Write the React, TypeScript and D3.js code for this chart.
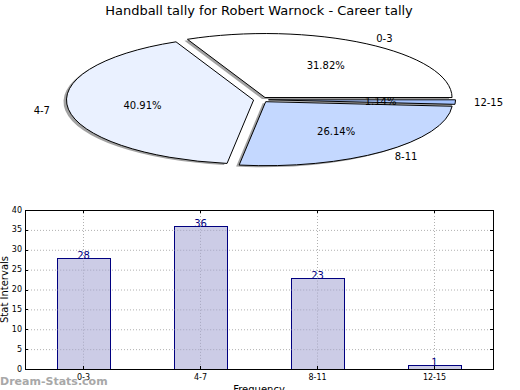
import { useEffect, useRef } from "react"
import * as d3 from "d3"

const title = "Handball tally for Robert Warnock - Career tally"
const categories = ["0-3", "4-7", "8-11", "12-15"]
const tallies = [28, 36, 23, 1]
const percentLabels = ["31.82%", "40.91%", "26.14%", "1.14%"]
const sliceColors = ["#ffffff", "#eaf1ff", "#c4d8ff", "#a6c4ff"]
const yTicks = [0, 5, 10, 15, 20, 25, 30, 35, 40]

export default function App() {
  const svgRef = useRef<SVGSVGElement>(null)

  useEffect(() => {
    if (!svgRef.current) return
    const svg = d3.select(svgRef.current)
    svg.selectAll("*").remove()

    const width = 520
    const height = 390
    const font = "DejaVu Sans, sans-serif"
    svg.attr("width", width).attr("height", height)

    svg.append("rect").attr("width", width).attr("height", height).style("fill", "white")

    // Title
    svg.append("text")
      .attr("x", 259)
      .attr("y", 15)
      .attr("text-anchor", "middle")
      .style("font-family", font)
      .style("font-size", "13px")
      .style("fill", "black")
      .text(title)

    // ---- Pie (squashed ellipse, matplotlib style) ----
    const cx = 261
    const cy = 99.7
    const rx = 187
    const ry = 64
    const explode = 0.04

    const pie = d3.pie<number>()
      .sort(null)
      .startAngle(Math.PI / 2)
      .endAngle(Math.PI / 2 - Math.PI * 2)
    const arcs = pie(tallies)
    const arc = d3.arc<d3.PieArcDatum<number>>().innerRadius(0).outerRadius(1)

    const pieG = svg.append("g")

    const offsetOf = (a: d3.PieArcDatum<number>, k: number) => {
      const mid = (a.startAngle + a.endAngle) / 2
      return [Math.sin(mid) * k, -Math.cos(mid) * k]
    }

    // shadows
    arcs.forEach((a) => {
      const [ox, oy] = offsetOf(a, explode)
      pieG.append("path")
        .attr("d", arc(a))
        .attr("transform", `translate(${cx + ox * rx - 3},${cy + oy * ry + 1.5}) scale(${rx},${ry})`)
        .style("fill", "#555")
        .style("opacity", 0.55)
        .style("stroke", "none")
    })

    arcs.forEach((a, i) => {
      const [ox, oy] = offsetOf(a, explode)
      pieG.append("path")
        .attr("d", arc(a))
        .attr("transform", `translate(${cx + ox * rx},${cy + oy * ry}) scale(${rx},${ry})`)
        .style("fill", sliceColors[i])
        .style("stroke", "black")
        .style("stroke-width", 1)
        .attr("vector-effect", "non-scaling-stroke")
    })

    arcs.forEach((a, i) => {
      const mid = (a.startAngle + a.endAngle) / 2
      const sx = Math.sin(mid)
      const sy = -Math.cos(mid)
      const lx = cx + sx * rx * (1.1 + explode)
      const ly = cy + sy * ry * (1.1 + explode)
      svg.append("text")
        .attr("x", lx)
        .attr("y", ly)
        .attr("text-anchor", sx > 0 ? "start" : "end")
        .attr("dominant-baseline", "central")
        .style("font-family", font)
        .style("font-size", "10px")
        .text(categories[i])

      const px = cx + sx * rx * (0.6 + explode)
      const py = cy + sy * ry * (0.6 + explode)
      svg.append("text")
        .attr("x", px)
        .attr("y", py)
        .attr("text-anchor", "middle")
        .attr("dominant-baseline", "central")
        .style("font-family", font)
        .style("font-size", "10px")
        .text(percentLabels[i])
    })

    // ---- Bar chart ----
    const left = 25
    const right = 493
    const top = 210
    const bottom = 369

    const x = d3.scaleBand<string>()
      .domain(categories)
      .range([left, right])
      .paddingInner(0.55)
      .paddingOuter(0.275)
    const y = d3.scaleLinear().domain([0, 40]).range([bottom, top])

    const grid = svg.append("g")
      .style("stroke", "#b0b0b0")
      .style("stroke-width", 1)
      .style("stroke-dasharray", "1,2")

    yTicks.slice(1, -1).forEach((t) => {
      grid.append("line")
        .attr("x1", left).attr("x2", right)
        .attr("y1", y(t) + 0.5).attr("y2", y(t) + 0.5)
    })
    categories.forEach((c) => {
      const xc = Math.round(x(c)! + x.bandwidth() / 2) + 0.5
      grid.append("line")
        .attr("x1", xc).attr("x2", xc)
        .attr("y1", top).attr("y2", bottom)
    })

    svg.append("g")
      .selectAll("rect")
      .data(tallies)
      .join("rect")
      .attr("x", (_, i) => Math.round(x(categories[i])!) + 0.5)
      .attr("y", (d) => Math.round(y(d)) + 0.5)
      .attr("width", Math.round(x.bandwidth()))
      .attr("height", (d) => Math.round(y(0)) - Math.round(y(d)))
      .style("fill", "#ccccE6")
      .style("stroke", "#000080")
      .style("stroke-width", 1)

    // grid lines drawn over the bars too (matplotlib puts grid on top)
    const grid2 = svg.append("g")
      .style("stroke", "#9090a8")
      .style("stroke-width", 1)
      .style("stroke-dasharray", "1,2")
      .style("opacity", 0.6)
    yTicks.slice(1, -1).forEach((t) => {
      tallies.forEach((v, i) => {
        if (v > t) {
          grid2.append("line")
            .attr("x1", x(categories[i])!).attr("x2", x(categories[i])! + x.bandwidth())
            .attr("y1", y(t) + 0.5).attr("y2", y(t) + 0.5)
        }
      })
    })
    categories.forEach((c, i) => {
      const xc = Math.round(x(c)! + x.bandwidth() / 2) + 0.5
      grid2.append("line")
        .attr("x1", xc).attr("x2", xc)
        .attr("y1", y(tallies[i])).attr("y2", bottom)
    })

    // value labels
    svg.append("g")
      .selectAll("text")
      .data(tallies)
      .join("text")
      .attr("x", (_, i) => x(categories[i])! + x.bandwidth() / 2)
      .attr("y", (d) => y(d) + 1)
      .attr("text-anchor", "middle")
      .style("font-family", font)
      .style("font-size", "10px")
      .style("fill", "#000080")
      .text((d) => d)

    // frame
    svg.append("rect")
      .attr("x", left + 0.5)
      .attr("y", top + 0.5)
      .attr("width", right - left)
      .attr("height", bottom - top)
      .style("fill", "none")
      .style("stroke", "black")
      .style("stroke-width", 1)

    // ticks
    const ticks = svg.append("g").style("stroke", "black").style("stroke-width", 1)
    yTicks.forEach((t) => {
      const yy = Math.round(y(t)) + 0.5
      ticks.append("line").attr("x1", left).attr("x2", left + 3).attr("y1", yy).attr("y2", yy)
      ticks.append("line").attr("x1", right - 3).attr("x2", right).attr("y1", yy).attr("y2", yy)
    })
    categories.forEach((c) => {
      const xc = Math.round(x(c)! + x.bandwidth() / 2) + 0.5
      ticks.append("line").attr("x1", xc).attr("x2", xc).attr("y1", bottom - 3).attr("y2", bottom)
      ticks.append("line").attr("x1", xc).attr("x2", xc).attr("y1", top).attr("y2", top + 3)
    })

    svg.append("g")
      .selectAll("text")
      .data(yTicks)
      .join("text")
      .attr("x", left - 3)
      .attr("y", (d) => y(d))
      .attr("text-anchor", "end")
      .attr("dominant-baseline", "central")
      .style("font-family", font)
      .style("font-size", "8px")
      .text((d) => d)

    svg.append("g")
      .selectAll("text")
      .data(categories)
      .join("text")
      .attr("x", (d) => x(d)! + x.bandwidth() / 2)
      .attr("y", bottom + 11)
      .attr("text-anchor", "middle")
      .style("font-family", font)
      .style("font-size", "8px")
      .text((d) => d)

    svg.append("text")
      .attr("transform", `translate(8,${(top + bottom) / 2}) rotate(-90)`)
      .attr("text-anchor", "middle")
      .style("font-family", font)
      .style("font-size", "10px")
      .text("Stat Intervals")

    svg.append("text")
      .attr("x", (left + right) / 2)
      .attr("y", 393)
      .attr("text-anchor", "middle")
      .style("font-family", font)
      .style("font-size", "10px")
      .text("Frequency")

    svg.append("text")
      .attr("x", 0)
      .attr("y", 385)
      .style("font-family", font)
      .style("font-size", "11px")
      .style("font-weight", "bold")
      .style("fill", "#999")
      .style("opacity", 0.85)
      .text("Dream-Stats.com")
  }, [])

  return (
    <div style={{ position: "absolute", left: 0, top: 0 }}>
      <svg ref={svgRef} style={{ display: "block" }} />
    </div>
  )
}
